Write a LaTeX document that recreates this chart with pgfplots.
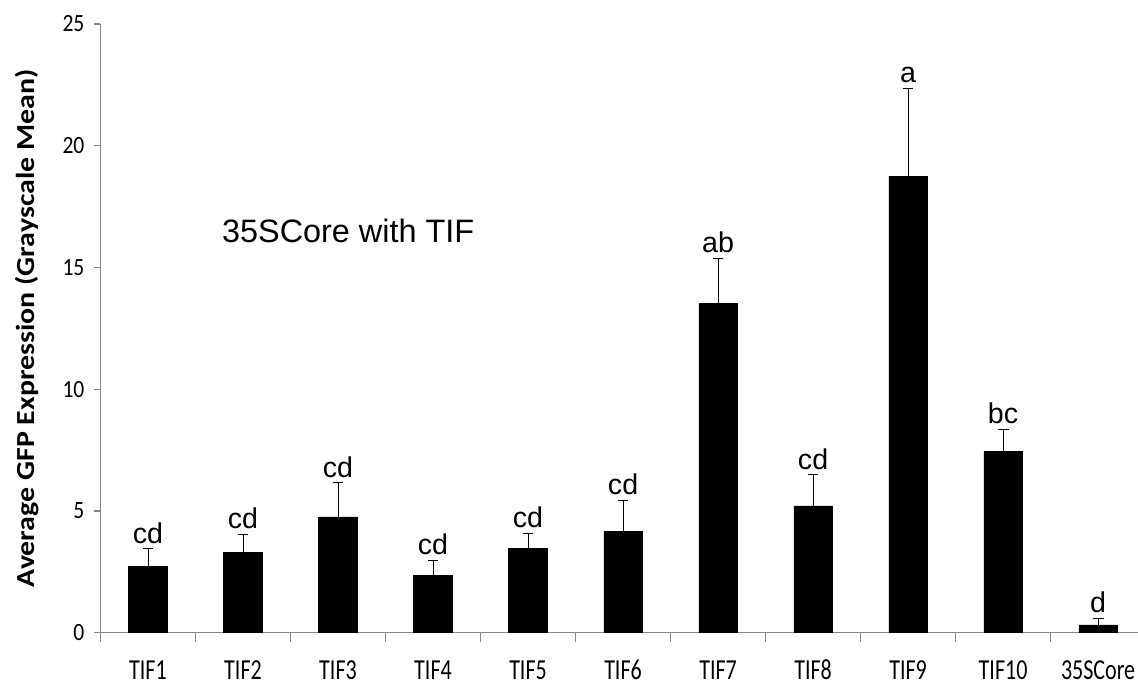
\documentclass[border=0pt]{standalone}
\usepackage{fontspec}
\setmainfont{Liberation Sans}
\newfontfamily\xtickfont[FakeStretch=0.76]{Carlito}
\newfontfamily\ytickfont[FakeStretch=0.87]{Carlito}
\newfontfamily\ylabfont[FakeStretch=1.15]{Carlito}
\usepackage{pgfplots}
\usepackage{pgfplotstable}
\pgfplotsset{compat=1.18}
\definecolor{axisgray}{RGB}{134,134,134}
\newcommand{\yt}[1]{{\ytickfont\fontsize{12.4}{14}\selectfont #1}}

% mean GFP grayscale value, standard error and significance group
\pgfplotstableread{
x  mean   err   lab
0  2.71   0.74  cd
1  3.30   0.74  cd
2  4.76   1.39  cd
3  2.36   0.61  cd
4  3.46   0.62  cd
5  4.17   1.28  cd
6  13.53  1.85  ab
7  5.21   1.28  cd
8  18.75  3.60  a
9  7.46   0.90  bc
10 0.32   0.27  d
}\gfpdata

\begin{document}
\begin{tikzpicture}
\begin{axis}[
  at={(0,0)}, anchor=south west,
  scale only axis,
  width=518.75pt, height=304.35pt,
  xmin=-0.5, xmax=10.42, ymin=0, ymax=25,
  axis x line*=bottom, axis y line*=left,
  axis line style={axisgray, line width=0.6pt},
  every tick/.style={axisgray, line width=0.6pt},
  tick align=outside,
  major tick length=3pt,
  minor tick length=4.5pt,
  xtick={0,...,10},
  xticklabels={TIF1,TIF2,TIF3,TIF4,TIF5,TIF6,TIF7,TIF8,TIF9,TIF10,35SCore},
  major x tick style={draw=none},
  minor xtick={-0.5,0.5,...,9.5},
  xticklabel style={font=\xtickfont\fontsize{14.5}{16}\selectfont, black,
    text height=9.4pt, text depth=0pt, yshift=-7.5pt},
  ytick={0,5,10,15,20,25},
  yticklabels={\yt{0},\yt{5},\yt{10},\yt{15},\yt{20},\yt{25}},
  yticklabel style={black, xshift=-1.5pt},
  clip=false,
]
\addplot[ybar, bar width=19.25pt, fill=black, draw=black, line width=0.3pt,
  error bars/.cd, y dir=plus, y explicit,
  error bar style={black, line width=0.5pt},
  error mark options={rotate=90, mark size=2.7pt, line width=0.5pt, black}]
  table[x=x, y=mean, y error=err]{\gfpdata};

\addplot[draw=none, mark=none, nodes near coords, point meta=explicit symbolic,
  nodes near coords style={anchor=base, yshift=2.8pt, inner sep=0pt,
    font=\fontsize{14.3}{16}\selectfont, black}]
  table[x=x, y expr=\thisrow{mean}+\thisrow{err}, meta=lab]{\gfpdata};

\node[anchor=base west, inner sep=0pt, font=\fontsize{16.2}{19}\selectfont]
  at (axis cs:0.776,16.03) {35SCore with TIF};

\node[xshift=-36.75pt, rotate=90, inner sep=0pt,
  font=\ylabfont\bfseries\fontsize{13}{15}\selectfont]
  at (rel axis cs:0,0.5) {Average GFP Expression (Grayscale Mean)};
\end{axis}
\pgfresetboundingbox
\path[use as bounding box] (-50.25pt,-26.15pt) rectangle (518.75pt,316.35pt);
\end{tikzpicture}
\end{document}
